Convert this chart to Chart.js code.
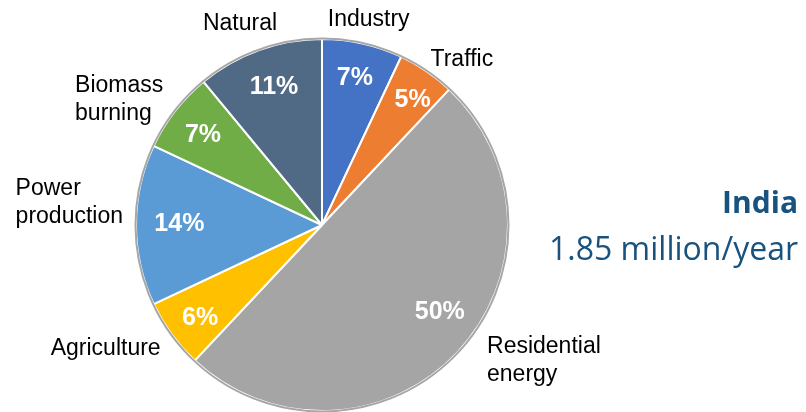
<!DOCTYPE html>
<html>
<head>
<meta charset="utf-8">
<script src="https://cdn.jsdelivr.net/npm/chart.js@4/dist/chart.umd.min.js"></script>
<style>
  html, body { margin: 0; padding: 0; background: #fff; }
  canvas { display: block; }
</style>
</head>
<body>
<canvas id="sources-pie" width="806" height="412"></canvas>
<script>
// source categories, clockwise from 12 o'clock
const sources = [['Industry'], ['Traffic'], ['Residential', 'energy'], ['Agriculture'], ['Power', 'production'], ['Biomass', 'burning'], ['Natural']];
const shares = [7, 5, 50, 6, 14, 7, 11];
const country = 'India';
const totalText = '1.85 million/year';

const sliceColors = ['#4472c4', '#ed7d31', '#a5a5a5', '#ffc000', '#5b9bd5', '#70ad47', '#506a86'];
// small per-label shifts for the outside names and the inside percentages
const labelNudge = [[-7, 8], [7, 15], [31, -24], [-6, -6], [6, -23], [-6, 17], [0, 4]];
const pctNudge = [[0, -1], [6, -1], [8, -17], [0, 4], [8, -2], [0, 1], [3, 3]];

const pieLabels = {
  id: 'pieLabels',
  afterDatasetsDraw(chart) {
    const ctx = chart.ctx;
    const arcs = chart.getDatasetMeta(0).data;
    if (!arcs.length) return;
    const { x, y, outerRadius } = arcs[0];

    // grey rim around the whole pie
    ctx.save();
    ctx.beginPath();
    ctx.arc(x, y, outerRadius + 0.5, 0, Math.PI * 2);
    ctx.strokeStyle = '#a6a6a6';
    ctx.lineWidth = 2;
    ctx.stroke();

    arcs.forEach((arc, i) => {
      const mid = (arc.startAngle + arc.endAngle) / 2;
      const cos = Math.cos(mid);
      const sin = Math.sin(mid);

      // percentage inside the slice
      ctx.font = 'bold 25px "Liberation Sans", Arial, sans-serif';
      ctx.fillStyle = '#ffffff';
      ctx.textAlign = 'center';
      ctx.textBaseline = 'middle';
      const pr = outerRadius * 0.81;
      ctx.fillText(shares[i] + '%', x + cos * pr + pctNudge[i][0], y + sin * pr + 1 + pctNudge[i][1]);

      // category name outside the slice
      ctx.font = '23px "Liberation Sans", Arial, sans-serif';
      ctx.fillStyle = '#000000';
      ctx.textAlign = 'left';
      ctx.textBaseline = 'alphabetic';
      const lines = sources[i];
      const lineH = 28;
      const w = Math.max(...lines.map(l => ctx.measureText(l).width));
      const h = lines.length * lineH;
      const R = outerRadius + 19;
      const cx = x + cos * R + cos * w / 2 + labelNudge[i][0];
      const cy = y + sin * R + sin * h / 2 + labelNudge[i][1];
      const left = cx - w / 2;
      const top = cy - h / 2;
      lines.forEach((line, j) => {
        ctx.fillText(line, left, top + 21 + j * lineH);
      });
    });

    // country and yearly total on the right
    ctx.textAlign = 'right';
    ctx.fillStyle = '#18527f';
    ctx.font = 'bold 30px "Open Sans", Lato, sans-serif';
    ctx.fillText(country, 798, 213);
    ctx.font = '32px "Open Sans", Lato, sans-serif';
    ctx.fillText(totalText, 798, 260);
    ctx.restore();
  }
};

new Chart(document.getElementById('sources-pie').getContext('2d'), {
  type: 'pie',
  data: {
    labels: sources,
    datasets: [{
      data: shares,
      backgroundColor: sliceColors,
      borderColor: '#ffffff',
      borderWidth: 2,
    }],
  },
  options: {
    responsive: false,
    animation: false,
    layout: {
      padding: { top: 38, bottom: 0, left: 135, right: 297 }
    },
    plugins: {
      legend: { display: false },
      tooltip: { enabled: false }
    }
  },
  plugins: [pieLabels]
});
</script>
</body>
</html>
